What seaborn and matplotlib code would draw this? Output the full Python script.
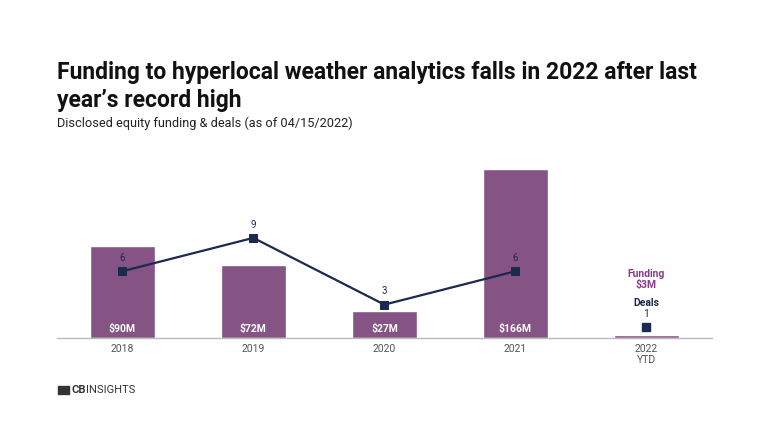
import numpy as np
import pandas as pd
import matplotlib
matplotlib.use("Agg")
import matplotlib.pyplot as plt
import seaborn as sns
from matplotlib.patches import Rectangle

sns.set_theme(style="white")
plt.rcParams['font.family'] = ['Roboto', 'DejaVu Sans']

# data
years = ["2018", "2019", "2020", "2021", "2022\nYTD"]
funding = [90, 72, 27, 166, 3]
funding_labels = ["$90M", "$72M", "$27M", "$166M", "$3M"]
deals = [6, 9, 3, 6, 1]

purple = "#855384"
navy = "#1b2a4e"

df = pd.DataFrame({"year": years, "funding": funding, "deals": deals})

fig = plt.figure(figsize=(7.68, 4.32), dpi=100)
ax = fig.add_axes([0.074, 0.2176, 0.853, 0.412])

sns.barplot(data=df, x="year", y="funding", color=purple, width=0.5,
            saturation=1, ax=ax)
ax.set_xlim(-0.5, 4.5)
ax.set_ylim(0, 175)
ax.set_xlabel("")
ax.set_ylabel("")
ax.set_yticks([])
for s in ["top", "right", "left"]:
    ax.spines[s].set_visible(False)
ax.spines["bottom"].set_color("#bbbbbb")
ax.spines["bottom"].set_linewidth(1)
ax.tick_params(axis="x", length=0, pad=4, labelsize=7.5, labelcolor="#555555")

# value labels inside bars (skip the tiny 2022 bar)
for i, lab in enumerate(funding_labels[:4]):
    ax.text(i, 4, lab, ha="center", va="bottom", color="white",
            fontsize=7.5, fontweight="bold")

ax2 = ax.twinx()
sns.lineplot(x=np.arange(4), y=deals[:4], color=navy, linewidth=1.6,
             marker="s", markersize=6, markeredgecolor=navy, ax=ax2)
ax2.plot([4], [deals[4]], marker="s", markersize=6, color=navy, linestyle="none")
ax2.set_ylim(0, 16)
ax2.set_xlim(-0.5, 4.5)
ax2.set_yticks([])
ax2.set_ylabel("")
for s in ["top", "right", "left", "bottom"]:
    ax2.spines[s].set_visible(False)

for i, d in enumerate(deals[:4]):
    ax2.text(i, d + 0.75, str(d), ha="center", va="bottom", color=navy, fontsize=7)

ax2.text(4, deals[4] + 0.75, str(deals[4]), ha="center", va="bottom", color=navy, fontsize=7.5)
ax2.text(4, deals[4] + 1.7, "Deals", ha="center", va="bottom", color=navy,
         fontsize=7.5, fontweight="bold")
ax2.text(4, deals[4] + 3.3, "Funding\n" + funding_labels[4], ha="center", va="bottom",
         color="#8a3b8c", fontsize=7.5, fontweight="bold", linespacing=1.1)

# titles
fig.text(0.074, 0.740, "Funding to hyperlocal weather analytics falls in 2022 after last\nyear\u2019s record high",
         ha="left", va="bottom", fontsize=16.5, fontweight="bold", color="#111111", linespacing=1.27)
fig.text(0.074, 0.70, "Disclosed equity funding & deals (as of 04/15/2022)",
         ha="left", va="bottom", fontsize=9.2, color="#222222")

# logo
fig.patches.append(Rectangle((0.075, 0.087), 0.015, 0.02, transform=fig.transFigure,
                             color="#333333"))
fig.text(0.093, 0.097, "CB", ha="left", va="center", fontsize=8, fontweight="bold", color="#333333")
fig.text(0.1125, 0.097, "INSIGHTS", ha="left", va="center", fontsize=8, color="#333333")

fig.savefig("out.png", dpi=100)
